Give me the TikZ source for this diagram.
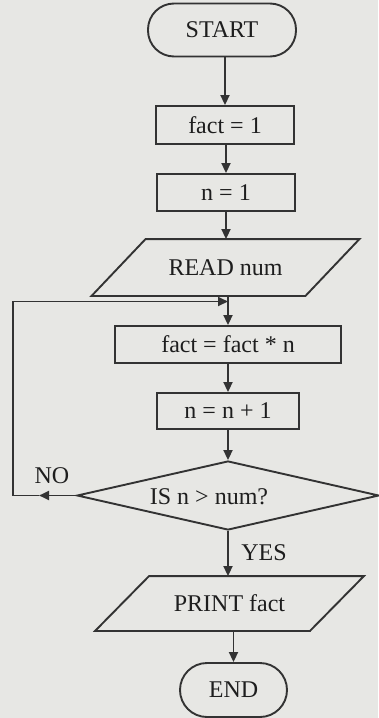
\documentclass[tikz,border=0pt]{standalone}
\usepackage{fontspec}
\setmainfont{Liberation Serif}
\usetikzlibrary{shapes.geometric,arrows.meta}
\definecolor{bg}{HTML}{E7E7E4}
\definecolor{ink}{HTML}{333333}
\definecolor{txt}{HTML}{1E1E1E}
\begin{document}
\begin{tikzpicture}[x=1pt,y=-1pt,
  base/.style={draw=ink, line width=1.9pt, text=txt, font=\fontsize{24}{27}\selectfont, inner sep=0pt},
  term/.style={base, rectangle, rounded corners=26pt},
  proc/.style={base, rectangle},
  io/.style={base, draw=none, rectangle},
  dec/.style={base, diamond},
  para/.style={draw=ink, line width=1.9pt},
  flow/.style={draw=ink, line width=1.9pt, -{Triangle[length=10pt,width=9pt]}},
  lbl/.style={text=txt, font=\fontsize{24}{27}\selectfont, inner sep=0pt}]
\fill[bg] (0,0) rectangle (378,718);
\useasboundingbox (0,0) rectangle (378,718);

\node[term, minimum width=148pt, minimum height=53pt] (start) at (222,30) {START};
\node[proc, minimum width=138pt, minimum height=38pt] (f1) at (225,125) {fact = 1};
\node[proc, minimum width=138pt, minimum height=37pt] (n1) at (226,192.5) {n = 1};
\node[io, minimum width=212pt, minimum height=55pt] (read) at (225.5,267.5) {READ num};
\node[proc, minimum width=226pt, minimum height=37pt] (mul) at (228,344.5) {fact = fact * n};
\node[proc, minimum width=142pt, minimum height=36pt] (inc) at (228,411) {n = n + 1};
\node[dec, minimum width=302pt, minimum height=69pt] (dec) at (228,495.5) {};
\node[lbl] (dectext) at (209,497) {IS n > num?};
\node[io, minimum width=213pt, minimum height=53pt] (print) at (229.5,603.5) {PRINT fact};
\node[term, minimum width=107pt, minimum height=54pt, rounded corners=27pt] (end) at (233.5,690) {END};

\draw[para] ([xshift=-27pt]read.south west) -- ([xshift=-27pt]read.south east)
  -- ([xshift=27pt]read.north east) -- ([xshift=27pt]read.north west) -- cycle;
\draw[para] ([xshift=-27pt]print.south west) -- ([xshift=-27pt]print.south east)
  -- ([xshift=27pt]print.north east) -- ([xshift=27pt]print.north west) -- cycle;

\draw[flow] (f1.north |- start.south) -- (f1.north);
\draw[flow] (n1.north |- f1.south) -- (n1.north);
\draw[flow] (n1.south) -- (n1.south |- read.north);
\draw[flow] (mul.north |- read.south) -- (mul.north);
\draw[flow] (inc.north |- mul.south) -- (inc.north);
\draw[flow] (dec.north |- inc.south) -- (dec.north);
\draw[flow] (dec.south) -- (dec.south |- print.north);
\draw[flow] (end.north |- print.south) -- (end.north);

\coordinate (nomid) at ([xshift=-37pt]dec.west);
\coordinate (lb) at ([xshift=-63pt]dec.west);
\coordinate (lt) at ([yshift=194pt]lb);
\coordinate (jn) at (mul.north |- lt);
\draw[flow] (dec.west) -- (nomid);
\draw[flow] (nomid) -- (lb) -- (lt) -- (jn);

\node[lbl] (no) at (52,476) {NO};
\node[lbl] (yes) at (264,553) {YES};
\end{tikzpicture}
\end{document}
